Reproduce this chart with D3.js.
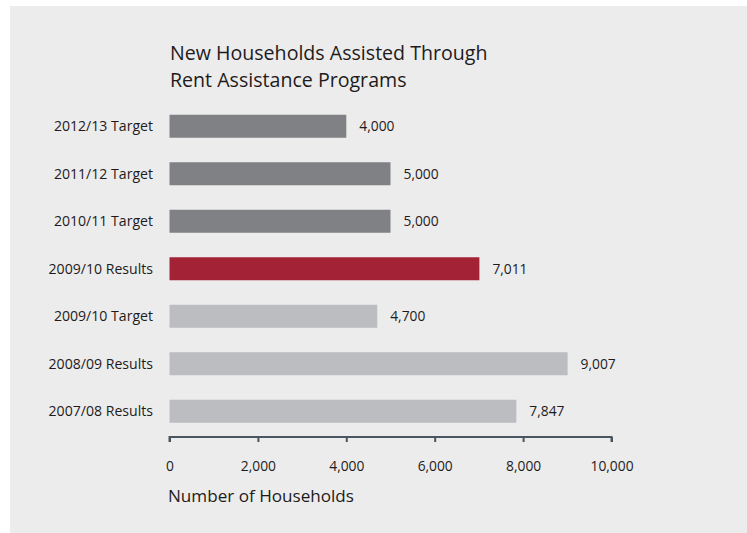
<!DOCTYPE html>
<html>
<head>
<meta charset="utf-8">
<script src="https://cdn.jsdelivr.net/npm/d3@7"></script>
<style>
  html, body { margin: 0; padding: 0; background: #ffffff; }
  svg { display: block; }
  text { font-family: "Open Sans", "Noto Sans", sans-serif; fill: #1e1b1c; }
</style>
</head>
<body>
<svg id="chart" width="747" height="533"></svg>
<script>
const categories = ["2012/13 Target", "2011/12 Target", "2010/11 Target", "2009/10 Results", "2009/10 Target", "2008/09 Results", "2007/08 Results"];
const values = [4000, 5000, 5000, 7011, 4700, 9007, 7847];
const barColors = ["#808184", "#808184", "#808184", "#a32235", "#bcbdc0", "#bcbdc0", "#bcbdc0"];
const tickValues = [0, 2000, 4000, 6000, 8000, 10000];
const titleLines = ["New Households Assisted Through", "Rent Assistance Programs"];
const xAxisTitle = "Number of Households";

const svg = d3.select("#chart");
svg.append("rect").attr("x", 10).attr("y", 6).attr("width", 737).attr("height", 527).attr("fill", "#ececec");

const x = d3.scaleLinear().domain([0, 10000]).range([169.5, 611.5]);
const y = d3.scaleBand().domain(categories).range([102.5, 435]).paddingInner(0.516).paddingOuter(0.258);

const data = categories.map((c, i) => ({ c, v: values[i], color: barColors[i] }));

// title
svg.append("g").selectAll("text").data(titleLines).join("text")
  .attr("x", 170).attr("y", (d, i) => 60 + i * 26.5)
  .style("font-size", "19.6px")
  .text(d => d);

// bars
svg.append("g").selectAll("rect").data(data).join("rect")
  .attr("x", x(0)).attr("y", d => y(d.c))
  .attr("width", d => x(d.v) - x(0)).attr("height", y.bandwidth())
  .attr("fill", d => d.color);

// value labels
svg.append("g").selectAll("text").data(data).join("text")
  .attr("x", d => x(d.v) + 13).attr("y", d => y(d.c) + y.bandwidth() / 2 + 5)
  .style("font-size", "13.8px")
  .text(d => d3.format(",")(d.v));

// category labels
svg.append("g").selectAll("text").data(data).join("text")
  .attr("x", 153).attr("y", d => y(d.c) + y.bandwidth() / 2 + 5)
  .attr("text-anchor", "end")
  .style("font-size", "14.1px")
  .text(d => d.c);

// x axis
const axis = d3.axisBottom(x).tickValues(tickValues).tickFormat(d3.format(",")).tickSize(5).tickPadding(19).tickSizeOuter(5);
const gx = svg.append("g").attr("transform", "translate(0,437)").call(axis);
gx.select(".domain").attr("stroke", "#4a5561").attr("stroke-width", 2).attr("d", `M${x(0)},5V0H${x(10000)}V5`);
gx.selectAll(".tick line").attr("stroke", "#4a5561").attr("stroke-width", 2);
gx.selectAll(".tick text").style("font-size", "13.8px").attr("fill", "#1e1b1c").style("font-family", "'Open Sans', sans-serif");

// x axis title
svg.append("text").attr("x", 168).attr("y", 502).style("font-size", "17.1px").text(xAxisTitle);
</script>
</body>
</html>
